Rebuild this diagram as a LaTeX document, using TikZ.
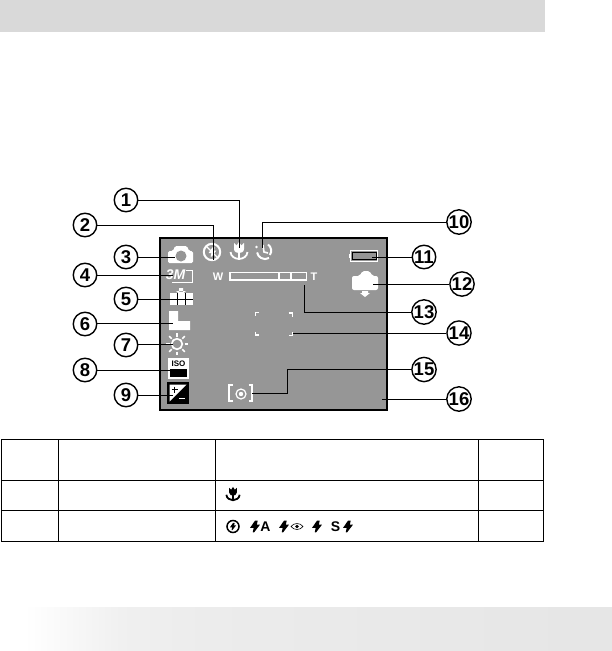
\documentclass[tikz,border=0pt]{standalone}
\usepackage{fontspec}
\setmainfont{Liberation Sans}
\usetikzlibrary{calc}
\definecolor{lcd}{HTML}{969696}
\definecolor{band}{HTML}{D9D9D9}
\pgfdeclarehorizontalshading{footshade}{100bp}{
 color(0bp)=(white);
 color(27bp)=(white);
 color(35bp)=(white!94!black);
 color(42bp)=(white!92.5!black);
 color(55bp)=(white!91.5!black);
 color(75bp)=(white!90!black);
 color(100bp)=(white!90!black)}
\tikzset{
 x=1pt,y=-1pt,
 num/.style={circle,draw=black,line width=1.4pt,fill=white,minimum size=23.5pt,inner sep=0pt,font=\bfseries\fontsize{18.5}{18.5}\selectfont},
 leader/.style={draw=black,line width=.9pt},
 flower/.pic={
   \fill[pic actions] (-5,-8) -- (-2.4,-5.5) -- (0,-9) -- (2.4,-5.5) -- (5,-8) -- (5,-2) .. controls (5,1.5) and (1.5,2) .. (0,2) .. controls (-1.5,2) and (-5,1.5) .. (-5,-2) -- cycle;
   \draw[pic actions,fill=none,line width=1.8pt] (0,1) -- (0,8);
   \draw[pic actions,fill=none,line width=1.8pt] (-8.5,1) .. controls (-8,6) and (-4,7.5) .. (0,8) .. controls (4,7.5) and (8,6) .. (8.5,1);
 },
 bolt/.pic={
   \fill[pic actions] (0,-6.5) -- (3,-6.5) -- (2,-2) -- (5.5,-2) -- (-1,6.5) -- (-2.5,6.5) -- (-1.5,1.5) -- (-5.5,1.5) -- cycle;
 }
}
\begin{document}
\begin{tikzpicture}
\useasboundingbox (0,0) rectangle (612,651);
\fill[white] (0,0) rectangle (612,651);
\fill[band] (0,0) rectangle (545,32);
\shade[shading=footshade,draw=none] (0,607) rectangle (612,651);

% screen
\draw[fill=lcd,draw=black,line width=1.4pt] (160,238) rectangle (387,410);

% camera icon
\fill[white,rounded corners=1.5pt] (168,251) -- (173,251) -- (175,246) -- (187,246) -- (189,251) -- (193,251) -- (193,263) -- (168,263) -- cycle;
\fill[lcd] (181,256) circle (5.5);
% flash off
\draw[white,line width=2pt] (212,252) circle (8.2);
\draw[white,line width=1.4pt] (206,246) -- (218,258);
\pic[white,scale=.72] at (212.5,252) {bolt};
% macro
\pic[white] at (239,251) {flower};
% self timer
\draw[white,line width=2pt] (268,244.5) arc (-55:35:7.5);
\draw[white,line width=2pt] (269,258) arc (60:170:8);
\draw[white,line width=1.6pt] (263,245) -- (264,252) -- (268,253);
\fill[white] (256.5,247) circle (1.3);
% 3M
\node[inner sep=0pt,text=white,font=\bfseries\itshape\fontsize{14}{14}\selectfont] (m3) at (175.5,275) {3M};
\draw[white,line width=.9pt] (186,270.5) -- (192.5,270.5) -- (192.5,282) -- (172,282);
% grid
\fill[white] (179,288) rectangle (183,292) (176,291) -- (186,291) -- (181,295) -- cycle;
\fill[white] (170,293) rectangle (193,305);
\draw[black,line width=.8pt] (170,299) -- (193,299) (177.5,293) -- (177.5,305) (185.5,293) -- (185.5,305);
% size
\fill[white] (169,311) -- (178,311) -- (178,321) -- (190,321) -- (190,330) -- (169,330) -- cycle;
% sun
\draw[white,line width=1.7pt] (177,344) circle (5.3);
\foreach \a in {0,45,...,315}{\draw[white,line width=1.7pt] ($(177,344)+(\a:7.5)$) -- ($(177,344)+(\a:11)$);}
% ISO
\fill[white] (168,358) rectangle (189,379);
\fill[black] (170,369) rectangle (187,377);
\node[inner sep=0pt,text=black,font=\bfseries\fontsize{8}{8}\selectfont] (iso) at (178.5,364) {ISO};
% EV
\fill[black] (167,382) rectangle (189,404);
\fill[white] (169.5,384.5) -- (186.5,384.5) -- (169.5,401.5) -- cycle;
\draw[black,line width=1pt] (171.5,389.5) -- (177.5,389.5) (174.5,386.5) -- (174.5,392.5);
\draw[white,line width=1pt] (179,398.5) -- (185,398.5);
% metering
\draw[white,line width=2.2pt] (232.5,385) -- (229,385) -- (229,401) -- (232.5,401);
\draw[white,line width=2.2pt] (248.5,385) -- (252,385) -- (252,401) -- (248.5,401);
\draw[white,line width=1.2pt] (241,394) circle (5);
\fill[white] (241,394) circle (2.2);
% W T zoom bar
\node[inner sep=0pt,text=white,font=\bfseries\fontsize{11}{11}\selectfont] (wl) at (218,277) {W};
\node[inner sep=0pt,text=white,font=\bfseries\fontsize{11}{11}\selectfont] (tl) at (314,276.5) {T};
\draw[white,line width=1.5pt] (230,272.5) rectangle (306.5,280);
\draw[white,line width=1.2pt] (279,272.5) -- (279,280) (291,272.5) -- (291,280);
% focus corners
\draw[white,line width=1.3pt] (259,312.5) -- (255.5,312.5) -- (255.5,316);
\draw[white,line width=1.3pt] (255.5,331.5) -- (255.5,335) -- (259,335);
\draw[white,line width=1.3pt] (288.5,313) -- (292.5,313) -- (292.5,317);
\draw[white,line width=1.3pt] (292.5,332) -- (292.5,335.5) -- (288.5,335.5);
% battery
\fill[white] (348.5,254) rectangle (351,258);
\draw[white,line width=1.4pt,fill=lcd] (350.5,250.5) rectangle (377.5,261.5);
\draw[black,line width=1pt,fill=lcd] (352,252.2) rectangle (376,259.8);
% scene icon
\fill[white,rounded corners=2pt] (352,276) -- (360,276) -- (362,271) -- (370,271) -- (372,276) -- (378,276) -- (378,290) -- (352,290) -- cycle;
\fill[white] (362,291) -- (368,291) -- (368,293) -- (370,293) -- (365,297) -- (360,293) -- (362,293) -- cycle;

% anchor points
\coordinate (e1) at (239,248);
\coordinate (e2) at (213,260);
\coordinate (e3) at (175,257);
\coordinate (e4) at (173,275);
\coordinate (e5) at (178,299);
\coordinate (e6) at (173,323.5);
\coordinate (e7) at (173,344);
\coordinate (e8) at (172,370);
\coordinate (e9) at (173,395);
\coordinate (e10) at (262,248);
\coordinate (e11) at (372,257);
\coordinate (e12) at (373,284);
\coordinate (e13) at (304,285);
\coordinate (e14) at (293,333);
\coordinate (e15) at (252,393);
\coordinate (e16) at (382,399);

\node[num] (c1) at (126,200) {1};
\node[num] (c2) at (85,225) {2};
\node[num] (c3) at (126,257) {3};
\node[num] (c4) at (85,275) {4};
\node[num] (c5) at (126,299) {5};
\node[num] (c6) at (85,324) {6};
\node[num] (c7) at (126,345) {7};
\node[num] (c8) at (85,370) {8};
\node[num] (c9) at (126,395) {9};
\node[num] (c10) at (459,222) {10};
\node[num] (c11) at (424,257) {11};
\node[num] (c12) at (462,284) {12};
\node[num] (c13) at (424,312) {13};
\node[num] (c14) at (459,333) {14};
\node[num] (c15) at (424,369.5) {15};
\node[num] (c16) at (459,399) {16};

\draw[leader] (c1.east) -| (e1);
\draw[leader] (c2.east) -| (e2);
\draw[leader] (c3) -- (e3);
\draw[leader] (c4) -- (e4);
\draw[leader] (c5) -- (e5);
\draw[leader] (c6.east |- e6) -- (e6);
\draw[leader] (c7.east |- e7) -- (e7);
\draw[leader] (c8) -- (e8);
\draw[leader] (c9) -- (e9);
\draw[leader] (c10.west) -| (e10);
\draw[leader] (c11) -- (e11);
\draw[leader] (c12) -- (e12);
\draw[leader] (c13.west) -| (e13);
\draw[leader] (c14) -- (e14);
\draw[leader] (c15.west) -| (287,393) -- (e15);
\draw[leader] (c16) -- (e16);

% table
\draw[black,line width=1pt] (1,439.5) rectangle (543,541);
\draw[black,line width=1pt] (1,480) -- (543,480) (1,510.5) -- (543,510.5);
\draw[black,line width=1pt] (58,439.5) -- (58,541) (215.5,439.5) -- (215.5,541) (478.5,439.5) -- (478.5,541);
% table icons
\pic[black,scale=.78] at (233,494) {flower};
\draw[black,line width=1.5pt] (233,526.5) circle (6);
\pic[black,scale=.55] at (233,526.5) {bolt};
\pic[black,scale=.9] at (255,526.5) {bolt};
\node[inner sep=0pt,font=\bfseries\fontsize{14}{14}\selectfont] (ta) at (265.5,526.5) {A};
\pic[black,scale=.9] at (284,526.5) {bolt};
\draw[black,line width=.6pt] (291,526.5) .. controls (294,522.5) and (300,522.5) .. (303,526.5) .. controls (300,530.5) and (294,530.5) .. (291,526.5) -- cycle;
\fill[black] (297,526.5) circle (1.8);
\pic[black,scale=.9] at (317,526.5) {bolt};
\node[inner sep=0pt,font=\bfseries\fontsize{14}{14}\selectfont] (ts) at (335.5,526.5) {S};
\pic[black,scale=.9] at (348,526.5) {bolt};
\end{tikzpicture}
\end{document}
